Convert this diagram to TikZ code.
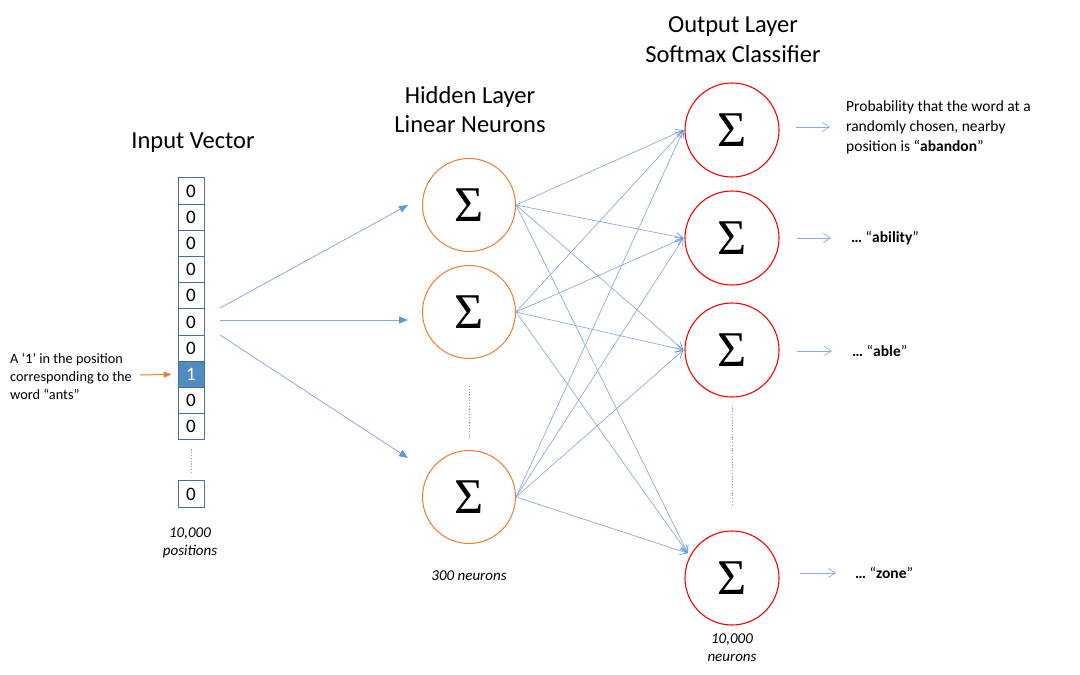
\documentclass[tikz,border=0pt]{standalone}
\usepackage{fontspec}
\setmainfont{Carlito}
\newfontfamily\sigfont{Liberation Serif}
\usetikzlibrary{arrows.meta}
\definecolor{lineblue}{HTML}{8FAADC}
\definecolor{headblue}{HTML}{5B9BD5}
\definecolor{boxblue}{HTML}{41719C}
\definecolor{neuronorange}{HTML}{ED7D31}
\definecolor{neuronred}{HTML}{FF0000}
\definecolor{dotgray}{HTML}{8EA4C0}
\tikzset{
  cell/.style={draw=boxblue, line width=0.9pt, minimum width=26pt, minimum height=26.2pt, inner sep=0pt, font=\fontsize{19}{19}\selectfont},
  hot/.style={cell, fill=headblue!90!black, text=white},
  hidden/.style={circle, draw=neuronorange, line width=1pt, minimum size=93pt, inner sep=0pt, font=\sigfont\fontsize{50}{50}\selectfont},
  outn/.style={circle, draw=neuronred, line width=1.1pt, minimum size=94pt, inner sep=0pt, font=\sigfont\fontsize{50}{50}\selectfont},
  title/.style={align=center, font=\fontsize{24.5}{29.5}\selectfont, inner sep=0pt},
  note/.style={align=center, font=\itshape\fontsize{15}{18.5}\selectfont, inner sep=0pt},
  inarrow/.style={draw=lineblue, line width=0.8pt, -{Triangle[length=9pt,width=7pt,fill=headblue,color=headblue]}},
  wire/.style={draw=lineblue, line width=0.7pt, -{Straight Barb[length=7pt,width=8pt,color=headblue]}},
  outarrow/.style={draw=lineblue, line width=0.7pt, -{Straight Barb[length=7pt,width=9pt]}},
  dotline/.style={draw=dotgray, line width=0.7pt, dash pattern=on 1.2pt off 1.6pt},
  desc/.style={anchor=west, align=left, inner sep=0pt, font=\fontsize{15.5}{20}\selectfont},
}
\begin{document}
\begin{tikzpicture}[x=1pt,y=-1pt]
\useasboundingbox (0,0) rectangle (1080,675);

% titles
\node[title] (tin) at (193,143) {Input Vector};
\node[title] (thid) at (470,109.5) {Hidden Layer\\Linear Neurons};
\node[title] (tout) at (733,39.5) {Output Layer\\Softmax Classifier};

% input vector
\foreach \i in {0,...,6} {
  \node[cell] (b\i) at (191,{191+26.2*\i}) {0};
}
\node[hot] (b7) at (191,{191+26.2*7}) {1};
\node[cell] (b8) at (191,{191+26.2*8}) {0};
\node[cell] (b9) at (191,{191+26.2*9}) {0};
\node[cell] (bl) at (191,494) {0};
\draw[dotline] ([yshift=-9pt]b9.south) -- ([yshift=6pt]bl.north);
\node[note] (npos) at (190,543) {10,000\\positions};

% left label
\node[anchor=west, align=left, inner sep=0pt, font=\fontsize{14.3}{18}\selectfont] (lab) at (10,376) {A ‘1’ in the position\\corresponding to the\\word “ants”};
\coordinate (oa) at (140,375);
\draw[draw=neuronorange, line width=1pt, -{Triangle[length=8pt,width=6pt]}] (oa) -- ([xshift=-6pt]b7.west);

% hidden layer
\node[hidden] (h1) at (469,205) {Σ};
\node[hidden] (h2) at (469,312) {Σ};
\node[hidden] (h3) at (469,497) {Σ};
\draw[dotline] ([yshift=-27pt]h2.south) -- ([yshift=11pt]h3.north);
\node[note] (n300) at (469,576) {300 neurons};

% input arrows
\coordinate (s1) at (220,308);
\coordinate (s2) at (220,320);
\coordinate (s3) at (220,335);
\coordinate (e1) at (408,205);
\coordinate (e2) at (408,320);
\coordinate (e3) at (408,458);
\draw[inarrow] (s1) -- (e1);
\draw[inarrow] (s2) -- (e2);
\draw[inarrow] (s3) -- (e3);

% output layer
\node[outn] (o1) at (732,130) {Σ};
\node[outn] (o2) at (732,238) {Σ};
\node[outn] (o3) at (732,350) {Σ};
\node[outn] (o4) at (732,578) {Σ};
\draw[dotline] ([yshift=-8pt]o3.south) -- ([yshift=26pt]o4.north);
\node[note] (n10k) at (732,647.5) {10,000\\neurons};

% hidden -> output
\foreach \h in {h1,h2,h3} {
  \draw[wire] (\h.east) -- ([xshift=-1pt]o1.west);
  \draw[wire] (\h.east) -- ([xshift=-1pt]o2.west);
  \draw[wire] (\h.east) -- ([xshift=-1pt]o3.west);
  \draw[wire] (\h.east) -- ([xshift=-3pt,yshift=1pt]o4.150);
}

% descriptions
\node[desc] (p1) at (846,127) {Probability that the word at a\\randomly chosen, nearby\\position is “\textbf{abandon}”};
\node[desc] (p2) at (851,238) {\textbf{…} “\textbf{ability}”};
\node[desc] (p3) at (852,351) {\textbf{…} “\textbf{able}”};
\node[desc] (p4) at (855,573) {\textbf{…} “\textbf{zone}”};
\draw[outarrow] ([xshift=16pt]o1.east |- p1.west) -- ([xshift=-16pt]p1.west);
\draw[outarrow] ([xshift=17pt]o2.east) -- ([xshift=-20pt]p2.west);
\draw[outarrow] ([xshift=17pt]o3.east |- p3.west) -- ([xshift=-20pt]p3.west);
\draw[outarrow] ([xshift=20pt]o4.east |- p4.west) -- ([xshift=-19pt]p4.west);
\end{tikzpicture}
\end{document}
